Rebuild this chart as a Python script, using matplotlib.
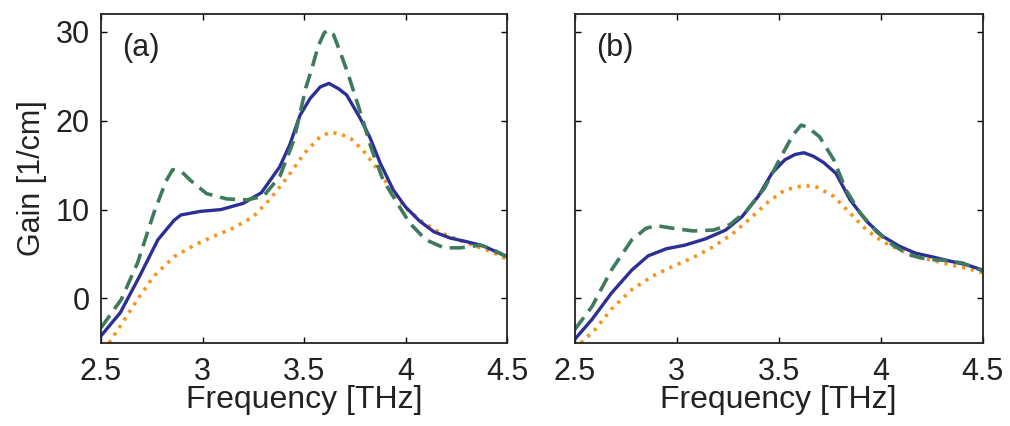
import matplotlib
matplotlib.use("Agg")
import matplotlib.pyplot as plt

# Panel (a)
a_solid_x = [2.5, 2.595, 2.69, 2.78, 2.86, 2.894, 2.99, 3.09, 3.2, 3.29, 3.38, 3.43, 3.48, 3.53, 3.58,
             3.623, 3.67, 3.71, 3.776, 3.825, 3.876, 3.94, 4.0, 4.07, 4.14, 4.22, 4.3, 4.385, 4.5]
a_solid_y = [-4.2, -1.6, 2.5, 6.6, 8.8, 9.4, 9.8, 10.0, 10.7, 11.9, 14.8, 17.3, 20.6, 22.5, 23.8,
             24.2, 23.6, 22.9, 20.3, 18.1, 15.2, 12.2, 10.3, 8.7, 7.5, 6.8, 6.4, 5.9, 4.7]

a_dash_x = [2.5, 2.6, 2.68, 2.76, 2.82, 2.853, 2.9, 2.94, 3.02, 3.12, 3.22, 3.3, 3.38, 3.45, 3.51,
            3.538, 3.57, 3.6, 3.62, 3.645, 3.677, 3.718, 3.76, 3.8, 3.83, 3.89, 3.96, 4.02, 4.1,
            4.19, 4.27, 4.37, 4.43, 4.5]
a_dash_y = [-3.3, -0.1, 4.0, 9.6, 13.2, 14.5, 14.2, 13.3, 11.8, 11.2, 11.1, 11.5, 13.7, 17.8, 23.8,
            25.8, 28.4, 29.9, 30.2, 29.7, 27.8, 25.2, 22.2, 19.3, 17.0, 13.3, 10.7, 8.5, 6.6,
            5.7, 5.7, 6.0, 5.5, 4.7]

a_dot_x = [2.54, 2.595, 2.68, 2.76, 2.86, 2.96, 3.055, 3.15, 3.25, 3.33, 3.42, 3.5, 3.58, 3.628,
           3.68, 3.73, 3.79, 3.876, 3.94, 4.01, 4.09, 4.17, 4.25, 4.33, 4.42, 4.5]
a_dot_y = [-5.0, -3.1, -0.1, 2.5, 4.7, 6.0, 7.0, 7.9, 9.2, 11.1, 13.7, 16.3, 18.2, 18.7,
           18.5, 18.0, 16.7, 14.1, 11.8, 10.0, 8.5, 7.4, 6.7, 6.0, 5.3, 4.4]

# Panel (b)
b_solid_x = [2.5, 2.585, 2.68, 2.78, 2.86, 2.95, 3.04, 3.14, 3.24, 3.32, 3.4, 3.467, 3.53, 3.58,
             3.623, 3.67, 3.72, 3.78, 3.85, 3.93, 4.01, 4.09, 4.17, 4.25, 4.34, 4.42, 4.5]
b_solid_y = [-4.6, -2.35, 0.6, 3.2, 4.8, 5.6, 6.0, 6.7, 7.7, 9.2, 11.5, 14.1, 15.6, 16.2,
             16.4, 16.0, 15.3, 14.1, 11.1, 8.7, 7.0, 5.9, 5.1, 4.7, 4.2, 3.8, 3.2]

b_dash_x = [2.5, 2.585, 2.68, 2.78, 2.85, 2.9, 2.98, 3.08, 3.18, 3.26, 3.34, 3.43, 3.51, 3.57,
            3.61, 3.64, 3.7, 3.77, 3.83, 3.9, 3.98, 4.06, 4.14, 4.23, 4.31, 4.4, 4.5]
b_dash_y = [-3.5, -0.9, 3.2, 6.6, 7.9, 8.2, 7.9, 7.6, 7.7, 8.3, 9.8, 12.4, 15.9, 18.4,
            19.5, 19.3, 18.2, 15.6, 12.2, 9.6, 7.5, 6.0, 4.9, 4.4, 4.3, 4.0, 3.1]

b_dot_x = [2.53, 2.6, 2.68, 2.78, 2.88, 2.98, 3.08, 3.17, 3.27, 3.37, 3.45, 3.53, 3.62, 3.68,
           3.77, 3.85, 3.93, 4.01, 4.09, 4.17, 4.25, 4.34, 4.42, 4.5]
b_dot_y = [-5.0, -3.5, -1.2, 1.0, 2.5, 3.6, 4.6, 5.7, 7.2, 9.2, 10.9, 12.2, 12.7, 12.6,
           11.5, 9.6, 7.7, 6.4, 5.5, 4.7, 4.3, 3.8, 3.4, 2.9]

x_ticks = [2.5, 3, 3.5, 4, 4.5]
x_ticklabels = ["2.5", "3", "3.5", "4", "4.5"]
y_ticks = [0, 10, 20, 30]

C_SOLID = "#2B2F96"
C_DASH = "#3E7B5C"
C_DOT = "#F7941D"
C_TEXT = "#222222"

plt.rcParams["font.family"] = ["Liberation Sans", "DejaVu Sans"]

fig = plt.figure(figsize=(10.1, 4.26), dpi=100)
ax_a = fig.add_axes([0.100, 0.195, 0.402, 0.772])
ax_b = fig.add_axes([0.569, 0.195, 0.404, 0.772])

panels = [
    (ax_a, "(a)", a_solid_x, a_solid_y, a_dash_x, a_dash_y, a_dot_x, a_dot_y),
    (ax_b, "(b)", b_solid_x, b_solid_y, b_dash_x, b_dash_y, b_dot_x, b_dot_y),
]

for ax, tag, sx, sy, dx, dy, ox, oy in panels:
    ax.plot(ox, oy, color=C_DOT, lw=2.6, linestyle=(0, (0.9, 1.6)))
    ax.plot(sx, sy, color=C_SOLID, lw=2.4, solid_joinstyle="round")
    ax.plot(dx, dy, color=C_DASH, lw=2.6, linestyle=(0, (4.2, 2.2)))
    ax.set_xlim(2.5, 4.5)
    ax.set_ylim(-5, 32)
    ax.set_xticks(x_ticks)
    ax.set_xticklabels(x_ticklabels)
    ax.set_yticks(y_ticks)
    ax.tick_params(direction="in", top=True, right=True, length=4, width=1,
                   labelsize=22, labelcolor=C_TEXT)
    ax.tick_params(axis="x", pad=10)
    ax.tick_params(axis="y", pad=8)
    for sp in ax.spines.values():
        sp.set_linewidth(1.3)
        sp.set_color(C_TEXT)
    ax.set_xlabel("Frequency [THz]", fontsize=23, labelpad=-1, color=C_TEXT)
    ax.text(0.052, 0.897, tag, transform=ax.transAxes, fontsize=22,
            ha="left", va="center", color=C_TEXT)

ax_a.set_ylabel("Gain [1/cm]", fontsize=22, labelpad=6, color=C_TEXT)
ax_b.set_yticklabels([])

fig.savefig("out.png", dpi=100)
